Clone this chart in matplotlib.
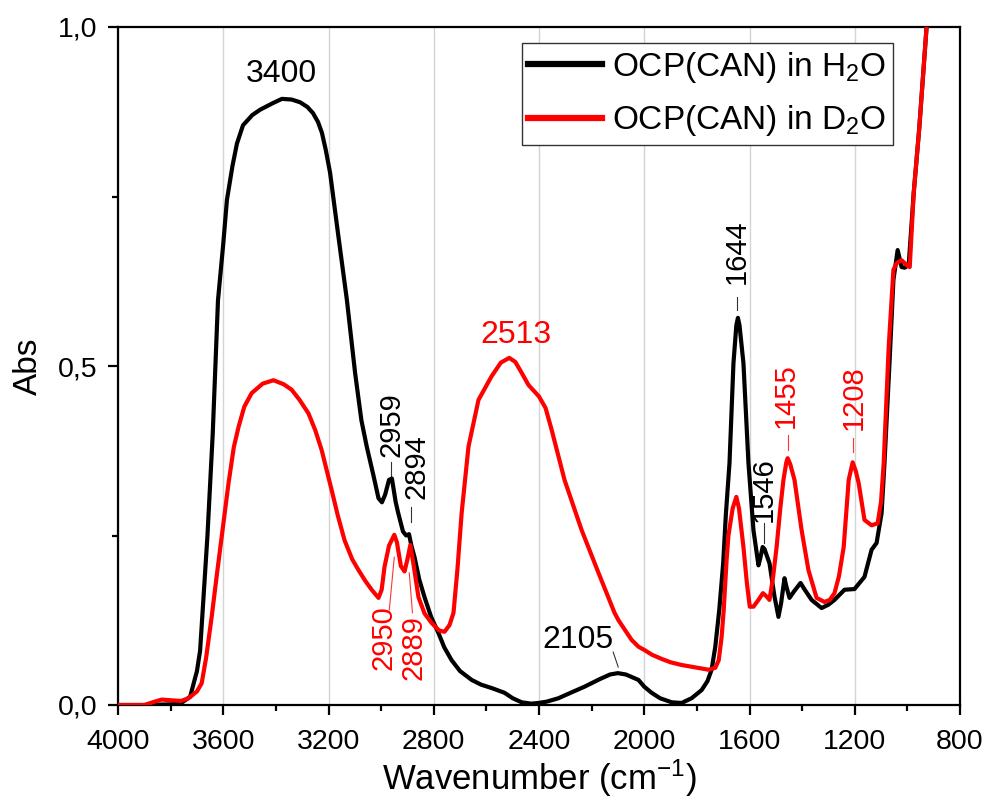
import matplotlib
matplotlib.use("Agg")
import matplotlib.pyplot as plt
from matplotlib.ticker import MultipleLocator, FuncFormatter

plt.rcParams['font.family'] = ['Liberation Sans', 'DejaVu Sans']
plt.rcParams['mathtext.fontset'] = 'custom'
plt.rcParams['mathtext.rm'] = 'Liberation Sans'
plt.rcParams['mathtext.it'] = 'Liberation Sans:italic'

# ---- data (wavenumber, absorbance) ----
h2o_wn = [4000, 3900, 3800, 3760, 3726, 3700, 3688, 3660, 3640, 3628, 3620, 3600, 3586, 3565,
          3548, 3525, 3490, 3460, 3430, 3410, 3377, 3340, 3308, 3280, 3259, 3240, 3225, 3210,
          3194, 3164, 3130, 3099, 3075, 3054, 3030, 3010, 2997, 2985, 2970, 2959, 2945, 2935,
          2917, 2905, 2894, 2885, 2873, 2855, 2835, 2810, 2782, 2760, 2732, 2700, 2656, 2620,
          2580, 2531, 2500, 2466, 2430, 2402, 2370, 2326, 2280, 2227, 2170, 2130, 2100, 2070,
          2040, 2022, 2000, 1972, 1940, 1896, 1858, 1820, 1782, 1760, 1744, 1730, 1715, 1700,
          1690, 1676, 1661, 1650, 1644, 1638, 1623, 1604, 1585, 1566, 1560, 1550, 1543, 1524,
          1505, 1490, 1480, 1467, 1460, 1448, 1430, 1406, 1390, 1364, 1326, 1300, 1277, 1239,
          1201, 1163, 1136, 1117, 1098, 1087, 1068, 1053, 1037, 1022, 1010, 995, 976, 955, 927, 900]
h2o_abs = [0, 0, 0.001, 0.003, 0.012, 0.05, 0.08, 0.25, 0.40, 0.52, 0.597, 0.68, 0.745, 0.795,
           0.828, 0.855, 0.870, 0.878, 0.884, 0.888, 0.894, 0.893, 0.889, 0.882, 0.873, 0.860, 0.844, 0.818,
           0.785, 0.696, 0.597, 0.49, 0.42, 0.38, 0.34, 0.305, 0.299, 0.31, 0.332, 0.334, 0.30, 0.283,
           0.256, 0.250, 0.252, 0.235, 0.218, 0.185, 0.159, 0.13, 0.106, 0.085, 0.066, 0.05, 0.037, 0.03,
           0.025, 0.018, 0.01, 0.004, 0.002, 0.003, 0.005, 0.01, 0.018, 0.027, 0.038, 0.045, 0.047, 0.045,
           0.040, 0.037, 0.027, 0.018, 0.01, 0.004, 0.003, 0.01, 0.022, 0.035, 0.052, 0.086, 0.14, 0.209,
           0.28, 0.357, 0.504, 0.56, 0.571, 0.56, 0.504, 0.357, 0.258, 0.206, 0.215, 0.233, 0.23, 0.209,
           0.16, 0.13, 0.15, 0.187, 0.175, 0.158, 0.168, 0.18, 0.17, 0.155, 0.143, 0.148, 0.155, 0.17,
           0.171, 0.189, 0.229, 0.239, 0.283, 0.357, 0.504, 0.627, 0.671, 0.646, 0.645, 0.649, 0.755, 0.85, 1.0, 1.2]

d2o_wn = [4000, 3900, 3860, 3834, 3800, 3760, 3732, 3700, 3682, 3665, 3644, 3625, 3606, 3580,
          3560, 3542, 3520, 3492, 3450, 3409, 3370, 3340, 3310, 3276, 3250, 3226, 3188, 3165,
          3139, 3110, 3086, 3060, 3036, 3010, 2998, 2987, 2970, 2950, 2940, 2925, 2911, 2900,
          2889, 2878, 2858, 2835, 2808, 2780, 2759, 2740, 2725, 2710, 2694, 2668, 2630, 2580,
          2545, 2513, 2490, 2466, 2440, 2400, 2375, 2352, 2303, 2238, 2174, 2113, 2098, 2048, 2022,
          1999, 1970, 1934, 1900, 1858, 1800, 1755, 1730, 1717, 1706, 1698, 1687, 1680, 1664,
          1650, 1640, 1623, 1610, 1599, 1585, 1566, 1549, 1535, 1524, 1510, 1497, 1483, 1471,
          1460, 1455, 1445, 1429, 1402, 1376, 1345, 1315, 1295, 1277, 1260, 1242, 1223, 1208,
          1196, 1185, 1163, 1136, 1113, 1100, 1090, 1071, 1053, 1040, 1022, 1000, 991, 976, 955, 927, 900]
d2o_abs = [0, 0, 0.005, 0.008, 0.007, 0.006, 0.01, 0.02, 0.032, 0.07, 0.13, 0.19, 0.248, 0.327,
           0.38, 0.41, 0.44, 0.46, 0.474, 0.479, 0.473, 0.465, 0.45, 0.43, 0.405, 0.376, 0.317, 0.28,
           0.243, 0.215, 0.199, 0.183, 0.17, 0.158, 0.17, 0.204, 0.235, 0.251, 0.24, 0.205, 0.197, 0.215,
           0.236, 0.21, 0.159, 0.135, 0.121, 0.11, 0.108, 0.118, 0.136, 0.2, 0.283, 0.381, 0.45, 0.485,
           0.505, 0.512, 0.506, 0.49, 0.472, 0.455, 0.438, 0.406, 0.332, 0.258, 0.195, 0.136, 0.125, 0.096, 0.086,
           0.081, 0.074, 0.068, 0.063, 0.059, 0.055, 0.052, 0.055, 0.066, 0.1, 0.14, 0.214, 0.25, 0.29,
           0.307, 0.29, 0.233, 0.18, 0.145, 0.145, 0.155, 0.165, 0.16, 0.155, 0.19, 0.233, 0.29, 0.332,
           0.358, 0.364, 0.355, 0.332, 0.258, 0.199, 0.158, 0.152, 0.155, 0.165, 0.19, 0.233, 0.332, 0.358,
           0.345, 0.327, 0.273, 0.265, 0.268, 0.30, 0.357, 0.528, 0.642, 0.652, 0.656, 0.648, 0.646, 0.755, 0.85, 1.0, 1.2]

series_labels = ['OCP(CAN) in H$_2$O', 'OCP(CAN) in D$_2$O']
series_colors = ['#000000', '#ff0000']

# peak annotations: text, text position (wn, abs), rotation, color, leader (wn1, a1, wn2, a2) or None
peak_labels = ['3400', '2513', '2959', '2894', '2950', '2889', '2105', '1644', '1546', '1455', '1208']
peak_text_wn = [3379, 2487, 2961, 2866, 2992, 2878, 2251, 1647, 1545, 1461, 1203]
peak_text_a = [0.931, 0.546, 0.413, 0.351, 0.099, 0.084, 0.096, 0.668, 0.317, 0.457, 0.453]
peak_rot = [0, 0, 90, 90, 90, 90, 0, 90, 90, 90, 90]
peak_color = ['k', 'r', 'k', 'k', 'r', 'r', 'k', 'k', 'k', 'r', 'r']
peak_leader = [None, None,
               (2961, 0.358, 2961, 0.336),
               (2885, 0.292, 2885, 0.270),
               (2950, 0.218, 2969, 0.140),
               (2893, 0.195, 2881, 0.136),
               (2118, 0.078, 2099, 0.056),
               (1647, 0.602, 1647, 0.583),
               (1545, 0.268, 1545, 0.239),
               (1453, 0.398, 1453, 0.376),
               (1207, 0.394, 1207, 0.373)]

fig = plt.figure(figsize=(9.86, 7.98), dpi=100)
ax = fig.add_axes([118/986, 1 - 705/798, (960-118)/986, (705-27)/798])

ax.plot(h2o_wn, h2o_abs, color=series_colors[0], lw=3.0, label=series_labels[0], zorder=3, solid_joinstyle='round')
ax.plot(d2o_wn, d2o_abs, color=series_colors[1], lw=3.0, label=series_labels[1], zorder=4, solid_joinstyle='round')

for t, xw, ya, rot, c, ld in zip(peak_labels, peak_text_wn, peak_text_a, peak_rot, peak_color, peak_leader):
    ax.text(xw, ya, t, rotation=rot, color=c, ha='center', va='center',
            fontsize=23 if rot == 0 else 21, zorder=6)
    if ld is not None:
        ax.plot([ld[0], ld[2]], [ld[1], ld[3]], color=c, lw=0.8, zorder=5, alpha=0.8)

ax.set_xlim(4000, 800)
ax.set_ylim(0, 1.0)
ax.xaxis.set_major_locator(MultipleLocator(400))
ax.xaxis.set_minor_locator(MultipleLocator(200))
ax.yaxis.set_major_locator(MultipleLocator(0.5))
ax.yaxis.set_minor_locator(MultipleLocator(0.25))
ax.yaxis.set_major_formatter(FuncFormatter(lambda v, p: f"{v:.1f}".replace('.', ',')))
ax.grid(axis='x', which='major', color='#d4d4d4', lw=1.0, zorder=0)

for s in ax.spines.values():
    s.set_linewidth(1.6)
ax.tick_params(which='major', direction='out', length=7, width=1.6, labelsize=20.5)
ax.tick_params(which='minor', direction='out', length=4.5, width=1.6)
ax.tick_params(axis='x', which='major', pad=10)
ax.tick_params(axis='y', which='major', pad=8)

ax.set_xlabel('Wavenumber (cm$^{-1}$)', fontsize=25, labelpad=2)
ax.set_ylabel('Abs', fontsize=24, labelpad=10)

leg = ax.legend(loc='upper right', bbox_to_anchor=(0.920, 0.976), borderaxespad=0,
                fontsize=24, frameon=True, fancybox=False, framealpha=1,
                handlelength=2.2, handletextpad=0.3, borderpad=0.2, labelspacing=0.55)
leg.get_frame().set_edgecolor('#333333')
leg.get_frame().set_linewidth(1.0)
for h in leg.get_lines():
    h.set_linewidth(4.5)

fig.savefig('out.png', dpi=100)
